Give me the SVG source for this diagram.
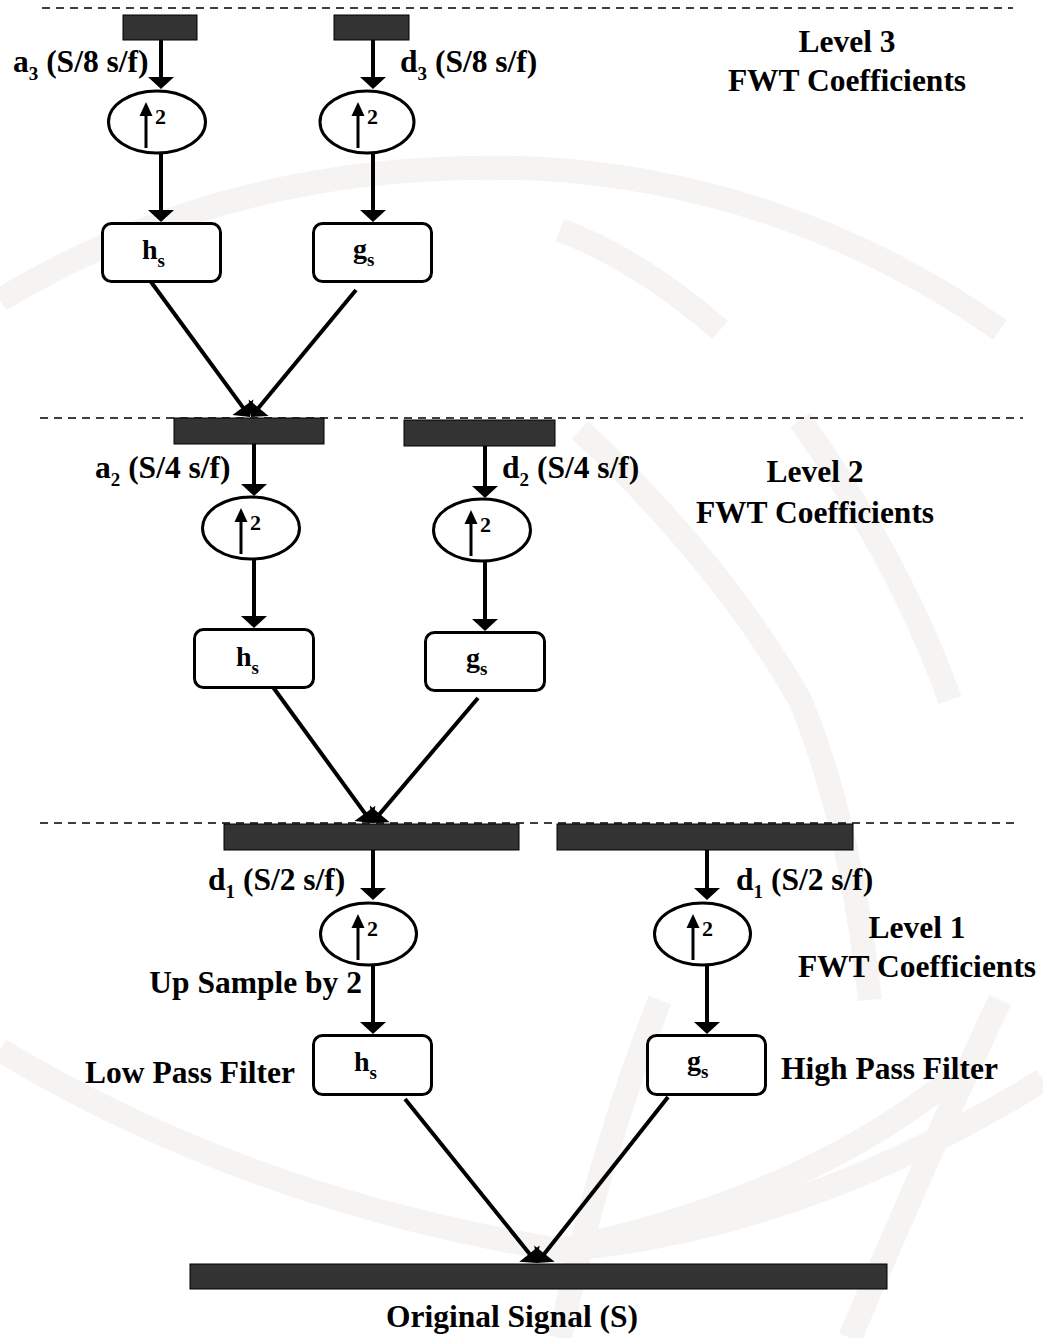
<svg xmlns="http://www.w3.org/2000/svg" width="1043" height="1338" viewBox="0 0 1043 1338">
  <style>
    .t { font-family: "Liberation Serif", "Times New Roman", serif; font-weight: bold; font-size: 31.5px; fill: #000; }
    .sub { font-size: 19px; }
    .two { font-family: "Liberation Serif", "Times New Roman", serif; font-weight: bold; font-size: 22px; fill: #000; }
    .fl { font-family: "Liberation Serif", "Times New Roman", serif; font-weight: bold; font-size: 28px; fill: #000; }
    .fs { font-size: 19px; }
    .bar { fill: #333333; stroke: #000; stroke-width: 1; }
    .box { fill: #fff; stroke: #000; stroke-width: 3; }
    .up { fill: #fff; stroke: #000; stroke-width: 3; }
    .dash { stroke: #000; stroke-width: 1.5; stroke-dasharray: 8 6; fill: none; }
    .c { stroke: #000; stroke-width: 4; fill: none; marker-end: url(#ah); }
    .ci { stroke: #000; stroke-width: 3; fill: none; marker-end: url(#ahs); }
    .wm { stroke: #f5f4f2; stroke-width: 24; fill: none; }
  </style>
  <defs>
    <marker id="ah" markerUnits="userSpaceOnUse" markerWidth="40" markerHeight="40" refX="1" refY="13" orient="auto" overflow="visible">
      <path d="M0,0 L12,13 L0,26 z" fill="#000"/>
    </marker>
    <marker id="ahs" markerUnits="userSpaceOnUse" markerWidth="30" markerHeight="30" refX="1" refY="6.5" orient="auto" overflow="visible">
      <path d="M0,0 L14,6.5 L0,13 z" fill="#000"/>
    </marker>
  </defs>
  <rect x="0" y="0" width="1043" height="1338" fill="#fff"/>

  <g id="watermark">
    <path class="wm" d="M0,300 Q250,150 560,170 Q800,190 1000,330"/>
    <path class="wm" d="M0,1050 Q250,1200 560,1250 Q800,1230 1043,1080"/>
    <path class="wm" d="M560,230 Q640,260 720,330"/>
    <path class="wm" d="M660,1000 Q600,1150 560,1338"/>
    <path class="wm" d="M1000,1000 Q930,1150 850,1338"/>
    <path class="wm" d="M560,1250 Q800,1200 950,1080"/>
    <path class="wm" d="M580,430 Q720,560 800,700 Q850,820 870,1000"/>
    <path class="wm" d="M800,420 Q900,560 950,700"/>
  </g>

  <g id="levels">
    <line class="dash" x1="42" y1="8" x2="1013" y2="8"/>
    <line class="dash" x1="40" y1="418" x2="1023" y2="418"/>
    <line class="dash" x1="40" y1="823" x2="1020" y2="823"/>
  </g>

  <g id="connectors">
    <line class="c" x1="161" y1="40" x2="161" y2="78"/>
    <line class="c" x1="161" y1="154" x2="161" y2="211"/>
    <line class="c" x1="373" y1="40" x2="373" y2="78"/>
    <line class="c" x1="373" y1="154" x2="373" y2="211"/>
    <line class="c" x1="146" y1="275" x2="243.5" y2="408.1"/>
    <line class="c" x1="356" y1="290" x2="258" y2="408.5"/>

    <line class="c" x1="254" y1="444" x2="254" y2="485"/>
    <line class="c" x1="254" y1="560" x2="254" y2="617"/>
    <line class="c" x1="485" y1="446" x2="485" y2="487"/>
    <line class="c" x1="485" y1="562" x2="485" y2="620"/>
    <line class="c" x1="270" y1="683" x2="365.5" y2="814.1"/>
    <line class="c" x1="478" y1="698" x2="379.1" y2="814.6"/>

    <line class="c" x1="373" y1="850" x2="373" y2="889"/>
    <line class="c" x1="373" y1="966" x2="373" y2="1023"/>
    <line class="c" x1="707" y1="850" x2="707" y2="889"/>
    <line class="c" x1="707" y1="966" x2="707" y2="1023"/>
    <line class="c" x1="405" y1="1099" x2="530.1" y2="1254.4"/>
    <line class="c" x1="668" y1="1097" x2="543.8" y2="1254.4"/>
  </g>

  <g id="a3-bar"><rect class="bar" x="123" y="15" width="74" height="25"/></g>
  <g id="d3-bar"><rect class="bar" x="334" y="15" width="75" height="25"/></g>
  <g id="a2-bar"><rect class="bar" x="174" y="418" width="150" height="26"/></g>
  <g id="d2-bar"><rect class="bar" x="404" y="420" width="151" height="26"/></g>
  <g id="a1-bar"><rect class="bar" x="224" y="824" width="295" height="26"/></g>
  <g id="d1-bar"><rect class="bar" x="557" y="824" width="296" height="26"/></g>
  <g id="signal-bar"><rect class="bar" x="190" y="1264" width="697" height="25"/></g>

  <g id="up3a"><ellipse class="up" cx="157" cy="122" rx="48.5" ry="31"/><line class="ci" x1="146" y1="148" x2="146" y2="115"/><text class="two" x="155" y="124">2</text></g>
  <g id="up3d"><ellipse class="up" cx="367" cy="122" rx="47" ry="31"/><line class="ci" x1="358" y1="148" x2="358" y2="115"/><text class="two" x="367" y="124">2</text></g>
  <g id="up2a"><ellipse class="up" cx="251" cy="528" rx="48.5" ry="31"/><line class="ci" x1="241" y1="554" x2="241" y2="521"/><text class="two" x="250" y="530">2</text></g>
  <g id="up2d"><ellipse class="up" cx="482" cy="530" rx="48.5" ry="31"/><line class="ci" x1="471" y1="556" x2="471" y2="523"/><text class="two" x="480" y="532">2</text></g>
  <g id="up1a"><ellipse class="up" cx="368.5" cy="934" rx="48" ry="31"/><line class="ci" x1="358" y1="960" x2="358" y2="927"/><text class="two" x="367" y="936">2</text></g>
  <g id="up1d"><ellipse class="up" cx="702.5" cy="934" rx="48" ry="31"/><line class="ci" x1="693" y1="960" x2="693" y2="927"/><text class="two" x="702" y="936">2</text></g>

  <g id="hs3"><rect class="box" x="102.5" y="223.5" width="118" height="58" rx="9"/><text class="fl" x="142" y="259">h<tspan class="fs" dy="8">s</tspan></text></g>
  <g id="gs3"><rect class="box" x="313.5" y="223.5" width="118" height="58" rx="9"/><text class="fl" x="353" y="258">g<tspan class="fs" dy="8">s</tspan></text></g>
  <g id="hs2"><rect class="box" x="194.5" y="629.5" width="119" height="58" rx="9"/><text class="fl" x="236" y="666">h<tspan class="fs" dy="8">s</tspan></text></g>
  <g id="gs2"><rect class="box" x="425.5" y="632.5" width="119" height="58" rx="9"/><text class="fl" x="466" y="667">g<tspan class="fs" dy="8">s</tspan></text></g>
  <g id="hs1"><rect class="box" x="313.5" y="1035.5" width="118" height="59" rx="9"/><text class="fl" x="354" y="1071">h<tspan class="fs" dy="8">s</tspan></text></g>
  <g id="gs1"><rect class="box" x="647.5" y="1035.5" width="118" height="59" rx="9"/><text class="fl" x="687" y="1070">g<tspan class="fs" dy="8">s</tspan></text></g>

  <g id="labels">
    <text class="t" x="13" y="72">a<tspan class="sub" dy="8">3</tspan><tspan dy="-8"> (S/8 s/f)</tspan></text>
    <text class="t" x="400" y="72">d<tspan class="sub" dy="8">3</tspan><tspan dy="-8"> (S/8 s/f)</tspan></text>
    <text class="t" x="95" y="478">a<tspan class="sub" dy="8">2</tspan><tspan dy="-8"> (S/4 s/f)</tspan></text>
    <text class="t" x="502" y="478">d<tspan class="sub" dy="8">2</tspan><tspan dy="-8"> (S/4 s/f)</tspan></text>
    <text class="t" x="208" y="890">d<tspan class="sub" dy="8">1</tspan><tspan dy="-8"> (S/2 s/f)</tspan></text>
    <text class="t" x="736" y="890">d<tspan class="sub" dy="8">1</tspan><tspan dy="-8"> (S/2 s/f)</tspan></text>
    <text class="t" x="362" y="993" text-anchor="end">Up Sample by 2</text>
    <text class="t" x="85" y="1083">Low Pass Filter</text>
    <text class="t" x="781" y="1079">High Pass Filter</text>
    <text class="t" x="512" y="1327" text-anchor="middle">Original Signal (S)</text>
    <text class="t" x="847" y="52" text-anchor="middle">Level 3</text>
    <text class="t" x="847" y="91" text-anchor="middle">FWT Coefficients</text>
    <text class="t" x="815" y="482" text-anchor="middle">Level 2</text>
    <text class="t" x="815" y="523" text-anchor="middle">FWT Coefficients</text>
    <text class="t" x="917" y="938" text-anchor="middle">Level 1</text>
    <text class="t" x="917" y="977" text-anchor="middle">FWT Coefficients</text>
  </g>
</svg>
